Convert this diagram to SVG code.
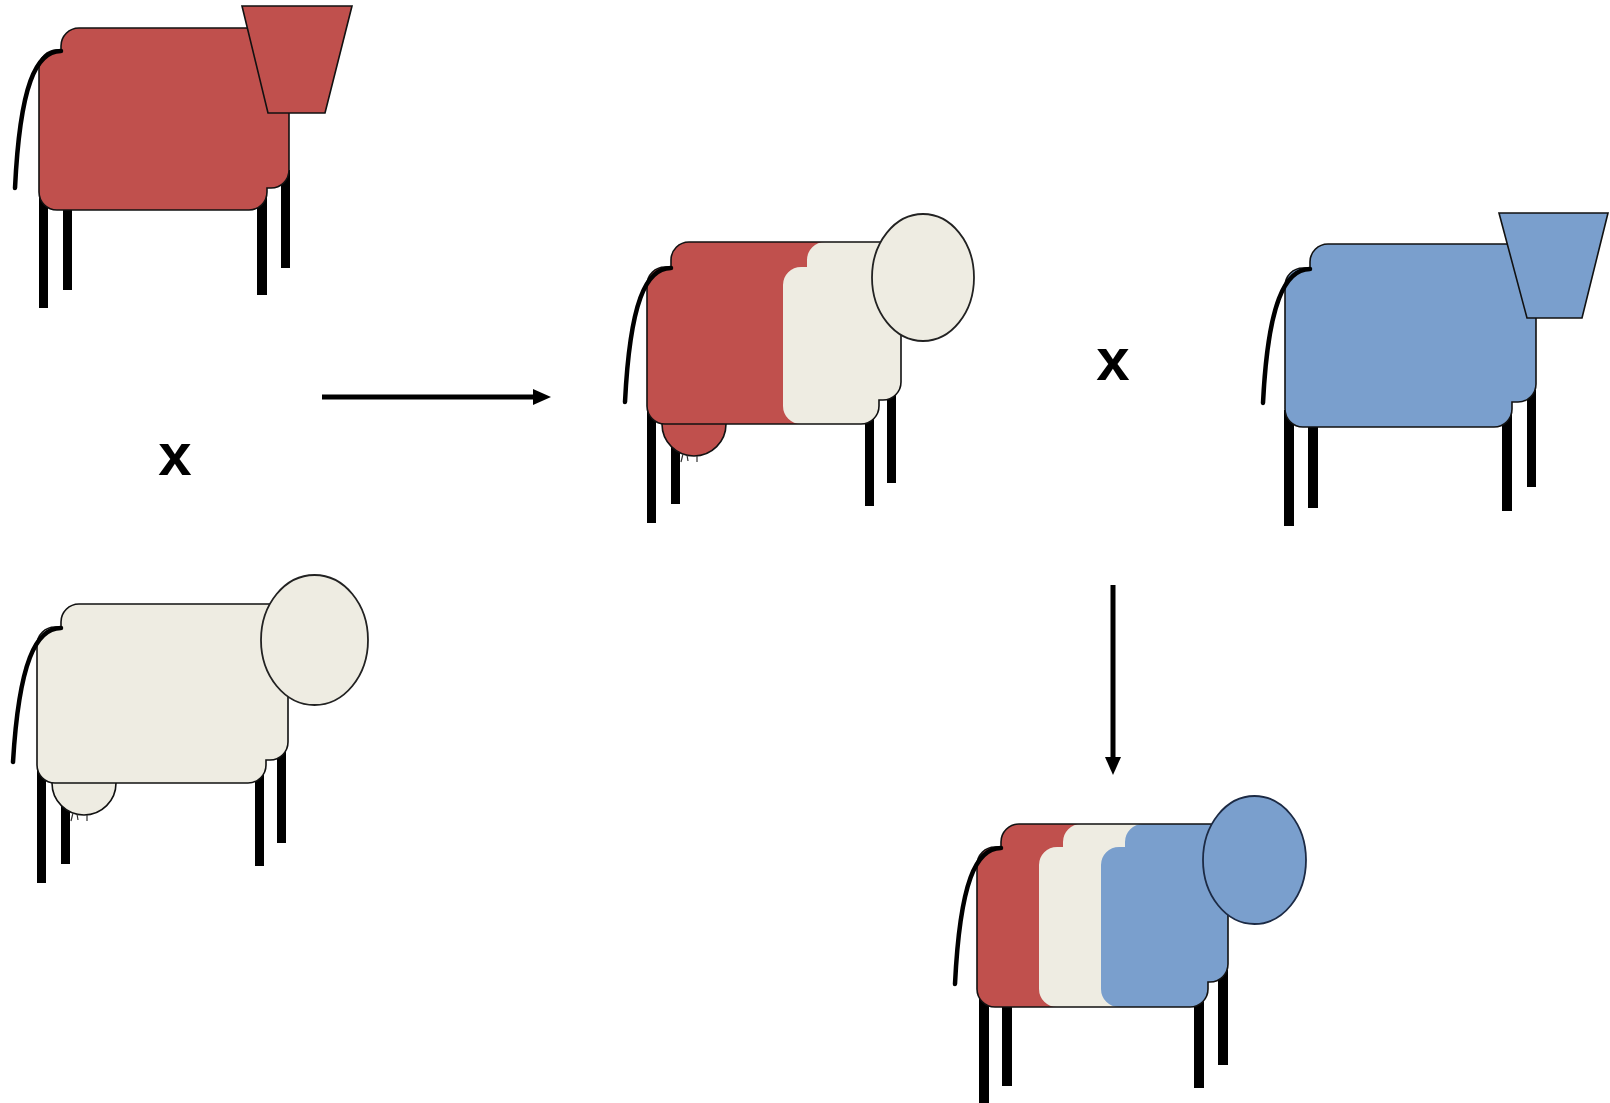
<svg xmlns="http://www.w3.org/2000/svg" width="1610" height="1103" viewBox="0 0 1610 1103">
  <style>
    .leg { fill: #000; }
    .tail { fill: none; stroke: #000; stroke-width: 4.5; stroke-linecap: round; }
    .outline { stroke: #111; stroke-width: 1.6; }
    .line { fill: none; stroke: #111; stroke-width: 1.6; }
    .head { stroke: #222; stroke-width: 1.8; }
    .teat { stroke: #333; stroke-width: 1.2; fill: none; }
    .red { fill: #C0504D; }
    .cream { fill: #EEECE2; }
    .blue { fill: #7A9FCD; }
    .cross { font-family: "Liberation Sans", Arial, sans-serif; font-size: 60px; font-weight: bold; fill: #000; text-anchor: middle; }
    .arrow { stroke: #000; stroke-width: 5; fill: none; }
  </style>
  <defs>
    <marker id="arrowhead" markerUnits="userSpaceOnUse" markerWidth="18" markerHeight="16" refX="0" refY="8" orient="auto">
      <path d="M0,0 L18,8 L0,16 Z" fill="#000"/>
    </marker>
    <path id="body3" d="M689,242 H883 A18 18 0 0 1 901,260 V382 A18 18 0 0 1 883,400 H879 V406 A18 18 0 0 1 861,424 H665 A18 18 0 0 1 647,406 V285 A18 18 0 0 1 665,267 H671 V260 A18 18 0 0 1 689,242 Z"/>
    <path id="body5" d="M1019,824 H1210 A18 18 0 0 1 1228,842 V964 A18 18 0 0 1 1210,982 H1208 V989 A18 18 0 0 1 1190,1007 H995 A18 18 0 0 1 977,989 V865 A18 18 0 0 1 995,847 H1001 V842 A18 18 0 0 1 1019,824 Z"/>
    <clipPath id="clip3"><use href="#body3"/></clipPath>
    <clipPath id="clip5"><use href="#body5"/></clipPath>
  </defs>

  <rect width="1610" height="1103" fill="#fff"/>

  <!-- red parent with square head -->
  <g id="cow-red">
    <rect class="leg" x="39" y="190" width="9" height="118"/>
    <rect class="leg" x="63" y="190" width="9" height="100"/>
    <rect class="leg" x="257" y="190" width="10" height="105"/>
    <rect class="leg" x="281" y="170" width="9" height="98"/>
    <path class="red outline" d="M79,28 H271 A18 18 0 0 1 289,46 V170 A18 18 0 0 1 271,188 H267 V192 A18 18 0 0 1 249,210 H57 A18 18 0 0 1 39,192 V68 A18 18 0 0 1 57,50 H61 V46 A18 18 0 0 1 79,28 Z"/>
    <path class="tail" d="M61,51 C36,51 20,85 15,188"/>
    <polygon class="red outline" points="242,6 352,6 325,113 268,113"/>
  </g>

  <!-- cream parent with round head -->
  <g id="cow-cream">
    <rect class="leg" x="37" y="770" width="9" height="113"/>
    <rect class="leg" x="61" y="775" width="9" height="89"/>
    <rect class="leg" x="255" y="770" width="9" height="96"/>
    <rect class="leg" x="277" y="750" width="9" height="93"/>
    <circle class="cream outline" cx="84" cy="783" r="32"/>
    <path class="teat" d="M73,813 L71,821 M77,814 L78,820 M87,815 L87,821"/>
    <path class="cream outline" d="M79,604 H270 A18 18 0 0 1 288,622 V742 A18 18 0 0 1 270,760 H266 V765 A18 18 0 0 1 248,783 H55 A18 18 0 0 1 37,765 V645 A18 18 0 0 1 55,627 H61 V622 A18 18 0 0 1 79,604 Z"/>
    <path class="tail" d="M61,628 C36,628 19,662 13,762"/>
    <ellipse class="cream head" cx="314.5" cy="640" rx="53.5" ry="65"/>
  </g>

  <!-- first cross: red and cream -->
  <g id="cow-cross1">
    <rect class="leg" x="647" y="410" width="9" height="113"/>
    <rect class="leg" x="671" y="410" width="9" height="94"/>
    <rect class="leg" x="865" y="410" width="9" height="96"/>
    <rect class="leg" x="887" y="390" width="9" height="93"/>
    <circle class="red outline" cx="694" cy="424" r="32"/>
    <path class="teat" d="M683,454 L681,462 M687,455 L688,461 M697,456 L697,462"/>
    <use href="#body3" class="red"/>
    <g clip-path="url(#clip3)">
      <use href="#body3" class="cream" transform="translate(136,0)"/>
    </g>
    <use href="#body3" class="line"/>
    <path class="tail" d="M671,268 C646,268 630,302 625,402"/>
    <ellipse class="cream head" cx="923" cy="277.5" rx="51" ry="63.5"/>
  </g>

  <!-- blue parent with square head -->
  <g id="cow-blue">
    <rect class="leg" x="1284" y="410" width="10" height="116"/>
    <rect class="leg" x="1308" y="410" width="10" height="98"/>
    <rect class="leg" x="1502" y="410" width="10" height="101"/>
    <rect class="leg" x="1527" y="390" width="9" height="97"/>
    <path class="blue outline" d="M1328,244 H1518 A18 18 0 0 1 1536,262 V384 A18 18 0 0 1 1518,402 H1512 V409 A18 18 0 0 1 1494,427 H1303 A18 18 0 0 1 1285,409 V286 A18 18 0 0 1 1303,268 H1310 V262 A18 18 0 0 1 1328,244 Z"/>
    <path class="tail" d="M1310,269 C1285,269 1268,303 1263,403"/>
    <polygon class="blue outline" points="1499,213 1608,213 1582,318 1527,318"/>
  </g>

  <!-- second cross: red, cream and blue -->
  <g id="cow-cross2">
    <rect class="leg" x="979" y="995" width="10" height="108"/>
    <rect class="leg" x="1002" y="995" width="10" height="91"/>
    <rect class="leg" x="1194" y="995" width="10" height="93"/>
    <rect class="leg" x="1218" y="970" width="10" height="95"/>
    <use href="#body5" class="red"/>
    <g clip-path="url(#clip5)">
      <use href="#body5" class="cream" transform="translate(62,0)"/>
      <use href="#body5" class="blue" transform="translate(124,0)"/>
    </g>
    <use href="#body5" class="line"/>
    <path class="tail" d="M1001,848 C976,848 960,882 955,984"/>
    <ellipse class="blue head" cx="1254.5" cy="860" rx="51.5" ry="64" style="stroke:#1C2A44"/>
  </g>

  <!-- crossing symbols and arrows -->
  <g id="connectors">
    <text class="cross" x="175" y="475">x</text>
    <text class="cross" x="1113" y="380">x</text>
    <line class="arrow" x1="322" y1="397" x2="533" y2="397" marker-end="url(#arrowhead)"/>
    <line class="arrow" x1="1113" y1="585" x2="1113" y2="757" marker-end="url(#arrowhead)"/>
  </g>
</svg>
